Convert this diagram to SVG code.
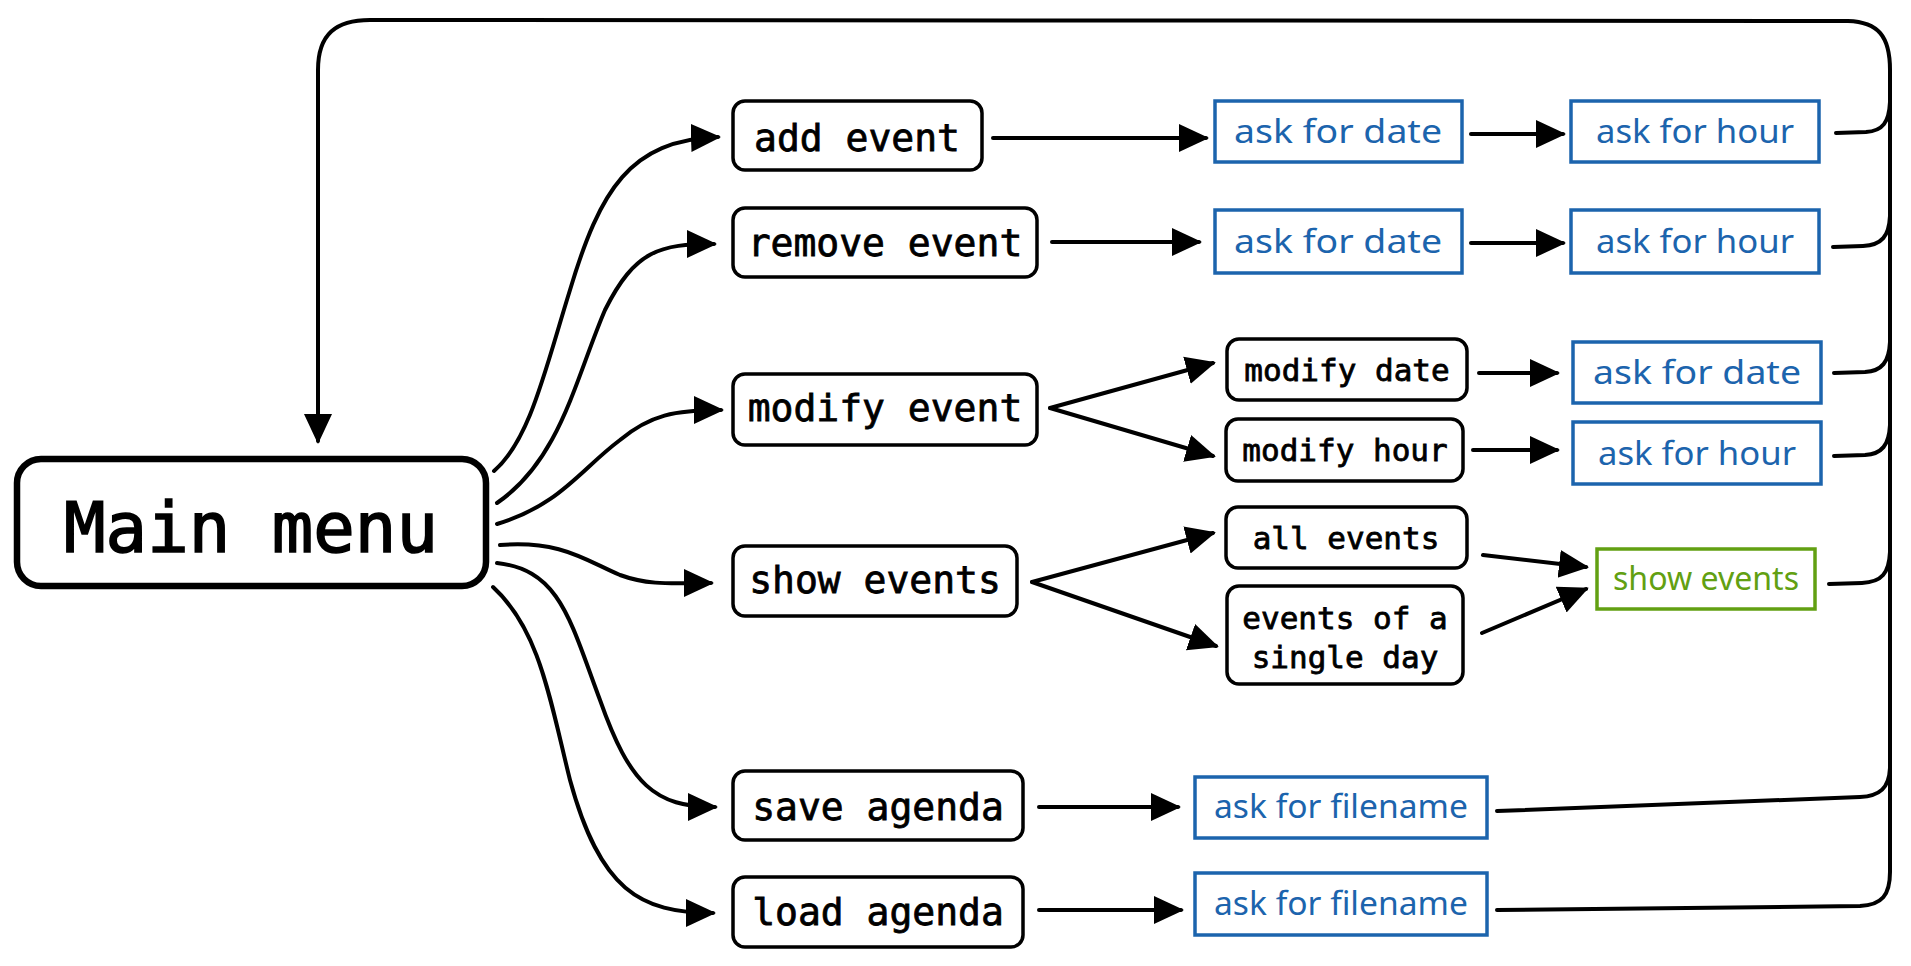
<svg xmlns="http://www.w3.org/2000/svg" width="1911" height="966" viewBox="0 0 1911 966">
<defs>
<marker id="ah" markerUnits="userSpaceOnUse" markerWidth="32" markerHeight="30" refX="27" refY="15" orient="auto">
<path d="M0,1 L30,15 L0,29 Z" fill="#000"/>
</marker>
<style>
.node rect{fill:#fff;stroke:#000;stroke-width:3.5}
.ask rect{fill:#fff;stroke:#1c64ad;stroke-width:3.5}
.ok rect{fill:#fff;stroke:#62a012;stroke-width:3.5}
.mono{font-family:"DejaVu Sans Mono","Liberation Mono",monospace;fill:#000;stroke:#000;stroke-width:0.8;text-anchor:middle}
.hand{font-family:"Noto Sans","Open Sans",sans-serif;font-size:32px;fill:#1c64ad;text-anchor:middle}
.okt{fill:#62a012}
.c path{fill:none;stroke:#000;stroke-width:4;stroke-linecap:round;stroke-linejoin:round}
.a{marker-end:url(#ah)}
</style>
</defs>
<rect width="1911" height="966" fill="#fff"/>

<g class="c" id="connectors">
<path class="a" d="M494,471 C530,440 545,370 570,290 C600,190 630,140 718,137"/>
<path class="a" d="M497,503 C560,460 575,380 605,310 C635,250 660,244 714,244"/>
<path class="a" d="M497,524 C560,505 580,470 620,440 C650,415 675,410 721,410"/>
<path class="a" d="M500,545 C560,540 585,560 620,575 C650,586 675,583 711,583"/>
<path class="a" d="M497,563 C560,570 570,620 600,700 C630,785 655,807 715,807"/>
<path class="a" d="M493,587 C540,630 550,700 570,780 C600,890 640,913 713,913"/>
<path class="a" d="M993,138 L1206,138"/>
<path class="a" d="M1052,242 L1199,242"/>
<path class="a" d="M1471,134 L1563,134"/>
<path class="a" d="M1471,243 L1563,243"/>
<path class="a" d="M1050,408 L1213,363"/>
<path class="a" d="M1050,408 L1213,456"/>
<path class="a" d="M1479,373 L1557,373"/>
<path class="a" d="M1473,450 L1557,450"/>
<path class="a" d="M1032,582 L1213,533"/>
<path class="a" d="M1032,582 L1216,646"/>
<path class="a" d="M1483,555 L1586,567"/>
<path class="a" d="M1482,633 L1586,589"/>
<path class="a" d="M1039,807 L1178,807"/>
<path class="a" d="M1039,910 L1181,910"/>
<path class="a" d="M1497,910 L1860,906 C1882,905 1890,895 1890,872 L1890,70 C1890,36 1878,22 1848,21 L370,20 C336,20 318,34 318,70 L318,441"/>
<path d="M1836,133 L1866,132 C1883,131 1889,122 1890,102"/>
<path d="M1833,247 L1863,246 C1882,245 1889,236 1890,216"/>
<path d="M1834,373 L1865,372 C1882,371 1889,362 1890,342"/>
<path d="M1834,456 L1865,455 C1882,454 1889,445 1890,425"/>
<path d="M1829,584 L1862,583 C1882,582 1889,573 1890,552"/>
<path d="M1497,811 L1860,797 C1880,796 1889,788 1890,768"/>
</g>

<g id="main" class="node"><rect x="17" y="459" width="469" height="127" rx="24" style="stroke-width:6.5"/><text class="mono" x="251" y="552" font-size="69" style="stroke-width:1.6">Main menu</text></g>
<g id="add" class="node"><rect x="733" y="101" width="249" height="69" rx="12"/><text class="mono" x="857" y="151" font-size="38">add event</text></g>
<g id="remove" class="node"><rect x="733" y="208" width="304" height="69" rx="12"/><text class="mono" x="885" y="256" font-size="38">remove event</text></g>
<g id="modify" class="node"><rect x="733" y="374" width="304" height="71" rx="12"/><text class="mono" x="885" y="421" font-size="38">modify event</text></g>
<g id="show" class="node"><rect x="733" y="546" width="284" height="70" rx="12"/><text class="mono" x="875" y="593" font-size="38">show events</text></g>
<g id="save" class="node"><rect x="733" y="771" width="290" height="69" rx="12"/><text class="mono" x="878" y="820" font-size="38">save agenda</text></g>
<g id="load" class="node"><rect x="733" y="877" width="290" height="70" rx="12"/><text class="mono" x="878" y="925" font-size="38">load agenda</text></g>

<g id="askdate1" class="ask"><rect x="1215" y="101" width="247" height="61"/><text class="hand" x="1338" y="143" textLength="208" lengthAdjust="spacingAndGlyphs">ask for date</text></g>
<g id="askhour1" class="ask"><rect x="1571" y="101" width="248" height="61"/><text class="hand" x="1695" y="143" textLength="198" lengthAdjust="spacingAndGlyphs">ask for hour</text></g>
<g id="askdate2" class="ask"><rect x="1215" y="210" width="247" height="63"/><text class="hand" x="1338" y="253" textLength="208" lengthAdjust="spacingAndGlyphs">ask for date</text></g>
<g id="askhour2" class="ask"><rect x="1571" y="210" width="248" height="63"/><text class="hand" x="1695" y="253" textLength="198" lengthAdjust="spacingAndGlyphs">ask for hour</text></g>

<g id="moddate" class="node"><rect x="1227" y="339" width="240" height="61" rx="12"/><text class="mono" x="1347" y="381" font-size="31">modify date</text></g>
<g id="modhour" class="node"><rect x="1226" y="419" width="237" height="62" rx="12"/><text class="mono" x="1345" y="461" font-size="31">modify hour</text></g>
<g id="askdate3" class="ask"><rect x="1573" y="342" width="248" height="61"/><text class="hand" x="1697" y="384" textLength="208" lengthAdjust="spacingAndGlyphs">ask for date</text></g>
<g id="askhour3" class="ask"><rect x="1573" y="422" width="248" height="62"/><text class="hand" x="1697" y="465" textLength="198" lengthAdjust="spacingAndGlyphs">ask for hour</text></g>

<g id="allevents" class="node"><rect x="1226" y="507" width="241" height="61" rx="12"/><text class="mono" x="1346" y="549" font-size="31">all events</text></g>
<g id="singleday" class="node"><rect x="1227" y="586" width="236" height="98" rx="12"/><text class="mono" x="1345" y="629" font-size="31">events of a</text><text class="mono" x="1345" y="668" font-size="31">single day</text></g>
<g id="showresult" class="ok"><rect x="1597" y="549" width="218" height="60"/><text class="hand okt" x="1706" y="590" textLength="186" lengthAdjust="spacingAndGlyphs">show events</text></g>

<g id="filesave" class="ask"><rect x="1195" y="777" width="292" height="61"/><text class="hand" x="1341" y="818" textLength="254" lengthAdjust="spacingAndGlyphs">ask for filename</text></g>
<g id="fileload" class="ask"><rect x="1195" y="873" width="292" height="62"/><text class="hand" x="1341" y="915" textLength="254" lengthAdjust="spacingAndGlyphs">ask for filename</text></g>
</svg>
